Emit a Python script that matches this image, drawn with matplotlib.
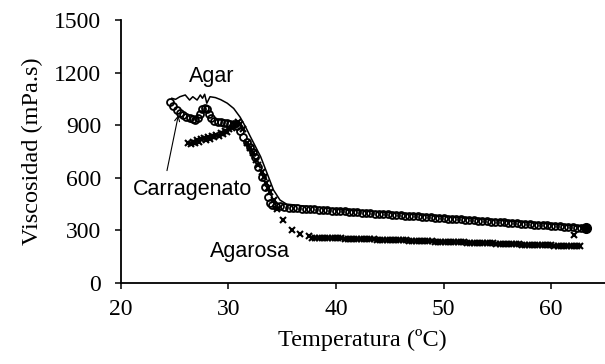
import matplotlib
matplotlib.use("Agg")
import matplotlib.pyplot as plt

# Carragenato (open circles)
carr_t = [24.6, 24.9, 25.2, 25.5, 25.8, 26.1, 26.4, 26.7, 26.9, 27.2, 27.4, 27.6, 27.8, 28.0,
          28.2, 28.4, 28.7, 29.0, 29.3, 29.6, 29.9, 30.2, 30.5, 30.8, 31.1, 31.4, 31.7, 32.0,
          32.3, 32.5, 32.8, 33.1, 33.4, 33.7, 33.9, 34.1,
          34.4, 34.8, 35.2, 35.6, 36.0, 36.4, 36.8, 37.2, 37.6, 38.0, 38.4, 38.8, 39.2, 39.6,
          40.0, 40.4, 40.8, 41.2, 41.6, 42.0, 42.4, 42.8, 43.2, 43.6, 44.0, 44.4, 44.8, 45.2,
          45.6, 46.0, 46.4, 46.8, 47.2, 47.6, 48.0, 48.4, 48.8, 49.2, 49.6, 50.0, 50.4, 50.8,
          51.2, 51.6, 52.0, 52.4, 52.8, 53.2, 53.6, 54.0, 54.4, 54.8, 55.2, 55.6, 56.0, 56.4,
          56.8, 57.2, 57.6, 58.0, 58.4, 58.8, 59.2, 59.6, 60.0, 60.4, 60.8, 61.2, 61.6, 62.0,
          62.4, 62.8, 63.2]
carr_v = [1030, 1010, 985, 968, 955, 948, 941, 933, 929, 940, 965, 990, 998, 990,
          965, 940, 925, 918, 915, 912, 910, 908, 905, 895, 865, 834, 805, 777,
          745, 720, 662, 605, 548, 491, 455, 445,
          440, 436, 432, 429, 427, 425, 423, 422, 420, 418, 417, 415, 413, 412,
          410, 408, 407, 405, 403, 402, 400, 398, 397, 395, 393, 392, 390, 388,
          387, 385, 383, 381, 380, 378, 376, 375, 373, 371, 369, 368, 366, 364,
          363, 361, 359, 357, 356, 354, 352, 351, 349, 347, 345, 344, 342, 340,
          339, 337, 335, 333, 332, 330, 328, 327, 325, 323, 322, 320, 318, 316,
          315, 313, 311]

# Agarosa (crosses)
agarosa_t = [26.3, 26.5, 26.7, 26.9, 27.1, 27.3, 27.5, 27.7, 27.9, 28.1, 28.3, 28.5, 28.7,
             28.9, 29.1, 29.3, 29.5, 29.7, 29.9, 30.1, 30.3, 30.5, 30.7, 30.9, 31.1, 31.4,
             31.7, 32.0, 32.3, 32.6, 32.8, 33.1, 33.3, 33.5, 33.7, 33.9, 34.2, 34.5, 35.1,
             35.9, 36.7, 37.5,
             37.8, 38.1, 38.4, 38.7, 39.0, 39.3, 39.6, 39.9, 40.2, 40.5, 40.8, 41.1, 41.4,
             41.7, 42.0, 42.3, 42.6, 42.9, 43.2, 43.5, 43.8, 44.1, 44.4, 44.7, 45.0, 45.3,
             45.6, 45.9, 46.2, 46.5, 46.8, 47.1, 47.4, 47.7, 48.0, 48.3, 48.6, 48.9, 49.2,
             49.5, 49.8, 50.1, 50.4, 50.7, 51.0, 51.3, 51.6, 51.9, 52.2, 52.5, 52.8, 53.1,
             53.4, 53.7, 54.0, 54.3, 54.6, 54.9, 55.2, 55.5, 55.8, 56.1, 56.4, 56.7, 57.0,
             57.3, 57.6, 57.9, 58.2, 58.5, 58.8, 59.1, 59.4, 59.7, 60.0, 60.3, 60.6, 60.9,
             61.2, 61.5, 61.8, 62.1, 62.4, 62.7, 62.1]
agarosa_v = [796, 790, 805, 798, 812, 806, 818, 824, 814, 830, 822, 838, 830, 845,
             838, 854, 848, 864, 858, 876, 882, 898, 906, 915, 905, 880,
             800, 770, 741, 700, 672, 630, 605, 570, 541, 520, 470, 420, 358,
             301, 278, 267,
             258, 258, 257, 257, 256, 255, 255, 254, 254, 253, 252, 252, 251,
             250, 250, 249, 249, 248, 247, 247, 246, 246, 245, 244, 244, 243,
             242, 242, 241, 241, 240, 239, 239, 238, 238, 237, 236, 236, 235,
             234, 234, 233, 233, 232, 231, 231, 230, 230, 229, 228, 228, 227,
             226, 226, 225, 225, 224, 223, 223, 222, 222, 221, 220, 220, 219,
             218, 218, 217, 217, 216, 215, 215, 214, 214, 213, 212, 212, 211,
             210, 210, 209, 209, 208, 207, 270]

# Agar (solid line)
agar_t = [24.75, 25.1, 25.5, 26.0, 26.4, 26.7, 27.1, 27.4, 27.6, 27.8, 28.0, 28.3, 28.8,
          29.3, 29.9, 30.5, 31.1, 31.6, 32.0, 32.5, 33.0, 33.6, 34.2, 34.8, 35.4, 36.7,
          40.0, 45.0, 50.0, 55.0, 60.0, 63.2]
agar_v = [1053, 1047, 1062, 1072, 1043, 1062, 1043, 1072, 1053, 1076, 1025, 1062, 1057,
          1045, 1025, 995, 945, 890, 840, 780, 720, 625, 529, 472, 449, 440,
          420, 400, 378, 357, 335, 320]

serif = "Liberation Serif"
sans = "Liberation Sans"

fig = plt.figure(figsize=(6.05, 3.64), dpi=100)
ax = fig.add_axes([0.1995, 0.2234, 0.8005, 0.7216])

ax.plot(agar_t, agar_v, color="black", lw=1.1, zorder=3)
ax.plot(carr_t, carr_v, linestyle="none", marker="o", ms=5, mfc="none",
        mec="black", mew=1.3, zorder=2)
ax.plot(carr_t[-1], carr_v[-1], marker="o", ms=7, color="black", zorder=2)
ax.plot(agarosa_t, agarosa_v, linestyle="none", marker="x", ms=4.2,
        mec="black", mew=1.5, zorder=2)

ax.set_xlim(20, 65)
ax.set_ylim(0, 1500)
ax.set_xticks([20, 30, 40, 50, 60])
ax.set_yticks([0, 300, 600, 900, 1200, 1500])

for s in ("top", "right"):
    ax.spines[s].set_visible(False)
for s in ("left", "bottom"):
    ax.spines[s].set_linewidth(1.3)

ax.tick_params(axis="both", direction="out", length=4, width=1.1, labelsize=17)
ax.tick_params(axis="y", pad=10)
ax.tick_params(axis="x", pad=8)
for lab in ax.get_xticklabels() + ax.get_yticklabels():
    lab.set_fontfamily(serif)

ax.set_xlabel("Temperatura (ºC)", fontsize=17.5, fontfamily=serif, labelpad=6)
ax.set_ylabel("Viscosidad (mPa.s)", fontsize=17.5, fontfamily=serif, labelpad=8)

ax.text(28.45, 1175, "Agar", fontsize=15.5, fontfamily=sans, ha="center", va="center")
ax.text(32.0, 180, "Agarosa", fontsize=15.5, fontfamily=sans, ha="center", va="center")
ax.text(26.7, 530, "Carragenato", fontsize=15.5, fontfamily=sans, ha="center", va="center")
ax.annotate("", xy=(25.36, 957), xytext=(24.3, 640),
            arrowprops=dict(arrowstyle="->", color="black", lw=0.8,
                            shrinkA=0, shrinkB=0, mutation_scale=9))

fig.savefig("out.png", dpi=100)
